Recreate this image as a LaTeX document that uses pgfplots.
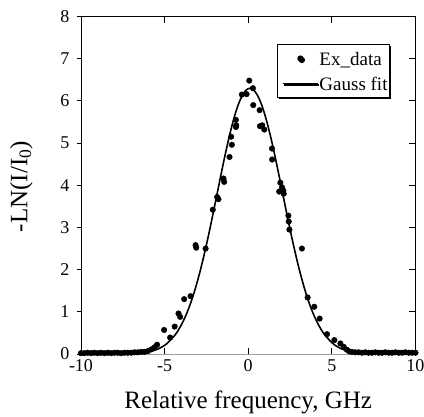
\documentclass[border=0pt]{standalone}
\usepackage{pgfplots}
\pgfplotsset{compat=1.18}
\usepackage{fontspec}
\setmainfont{Liberation Serif}
\usetikzlibrary{shadows}
\begin{document}
\begin{tikzpicture}
\begin{axis}[
  at={(0pt,0pt)}, anchor=south west,
  width=334.5pt, height=337.5pt, scale only axis,
  xmin=-10, xmax=10, ymin=0, ymax=8,
  axis line style={line width=0.9pt, black},
  xtick={-10,-5,0,5,10}, xticklabels={-10,-5,0,5,10},
  ytick={0,1,2,3,4,5,6,7,8}, yticklabels={0,1,2,3,4,5,6,7,8},
  tick align=inside, xtick pos=both, xticklabel pos=lower,
  ytick pos=right, yticklabel pos=left,
  major tick length=6.5pt,
  tick style={black, line width=0.8pt},
  ticklabel style={font=\fontsize{18}{21}\selectfont},
  yticklabel style={xshift=-8pt},
  xticklabel style={yshift=-2pt},
  xlabel={Relative frequency, GHz},
  ylabel={-LN(I/I\textsubscript{0})},
  label style={font=\fontsize{25}{29}\selectfont},
  xlabel style={at={(axis description cs:0.5,-0.16)}, anchor=base},
  ylabel style={at={(axis description cs:-0.16,0.496)}, anchor=base},
  legend style={at={(0.924,0.9185)}, anchor=north east, draw=black, line width=1pt, fill=white,
    inner xsep=1pt, inner ysep=3pt, row sep=3pt,
    font=\fontsize{19}{22}\selectfont,
    nodes={inner sep=1pt, text height=17pt, text depth=3pt},
    drop shadow={shadow xshift=1.5pt, shadow yshift=-1.5pt, fill=black, opacity=1},
    /tikz/every even column/.append style={column sep=0pt}},
  legend cell align=left,
]
\draw[gray!75, line width=1pt] (rel axis cs:0,0) -- (rel axis cs:1,0);
\addplot[only marks, mark=*, mark size=2.8pt, black,
  legend image code/.code={\path (-4pt,0pt) (35pt,0pt); \fill[black] (17.5pt,0pt) circle (2.6pt);}]
coordinates {
(-10.0,0.02) (-9.8,0.02) (-9.6,0.03) (-9.4,0.02) (-9.2,0.03) (-9.0,0.02) (-8.8,0.03)
(-8.6,0.02) (-8.4,0.03) (-8.2,0.02) (-8.0,0.03) (-7.8,0.03) (-7.6,0.02) (-7.4,0.03)
(-7.2,0.03) (-7.0,0.03) (-6.8,0.04) (-6.6,0.04) (-6.4,0.05) (-6.2,0.05) (-6.0,0.07)
(-5.8,0.11) (-5.6,0.16) (-5.45,0.22)
(-5.03,0.57) (-4.67,0.39) (-4.40,0.65) (-4.17,0.96) (-4.07,0.88) (-3.83,1.30)
(-3.45,1.37) (-3.15,2.58) (-3.11,2.52) (-2.55,2.50) (-2.12,3.42) (-1.86,3.72)
(-1.78,3.67) (-1.48,4.16) (-1.44,4.08) (-1.12,4.67) (-0.98,4.96) (-1.02,5.15)
(-0.74,5.55) (-0.72,5.42) (-0.74,5.38) (-0.38,6.15) (-0.10,6.16) (0.06,6.48)
(0.28,6.30) (0.30,5.90) (0.68,5.78) (0.70,5.40) (0.84,5.42) (0.96,5.32)
(1.42,4.87) (1.43,4.61) (1.85,3.85) (1.92,4.06) (2.02,3.95) (2.10,3.87) (2.12,3.80)
(2.40,3.28) (2.42,3.14) (2.46,2.95) (3.21,2.50) (3.55,1.34) (3.95,1.12) (4.27,0.84)
(4.71,0.47) (5.15,0.33) (5.51,0.25) (5.71,0.17) (5.90,0.10) (6.05,0.06)
(6.2,0.05) (6.4,0.04) (6.6,0.04) (6.8,0.03) (7.0,0.04) (7.2,0.03) (7.4,0.03)
(7.6,0.04) (7.8,0.03) (8.0,0.03) (8.2,0.04) (8.4,0.03) (8.6,0.03) (8.8,0.04)
(9.0,0.03) (9.2,0.03) (9.4,0.04) (9.6,0.03) (9.8,0.03) (10.0,0.03)
};
\addlegendentry{Ex\_data}
\addplot[black, line width=1.6pt, smooth,
  legend image code/.code={\draw[black, line width=1.2pt] (-4pt,0pt) (0pt,0pt) -- (35pt,0pt);}]
coordinates {
(-10,0) (-8,0.0011) (-7,0.0083) (-6.4,0.0244) (-5.9,0.0554) (-5.4,0.118) (-4.9,0.235)
(-4.4,0.440) (-4.15,0.586) (-3.9,0.768) (-3.65,0.991) (-3.4,1.258) (-3.15,1.571)
(-2.9,1.929) (-2.65,2.331) (-2.4,2.770) (-2.15,3.238) (-1.9,3.723) (-1.65,4.212)
(-1.4,4.687) (-1.15,5.130) (-0.9,5.524) (-0.65,5.851) (-0.4,6.097) (-0.15,6.248)
(0.1,6.3) (0.35,6.248) (0.6,6.097) (0.85,5.851) (1.1,5.524) (1.35,5.130) (1.6,4.687)
(1.85,4.212) (2.1,3.723) (2.35,3.238) (2.6,2.770) (2.85,2.331) (3.1,1.929) (3.35,1.571)
(3.6,1.258) (3.85,0.991) (4.1,0.768) (4.35,0.586) (4.6,0.440) (5.1,0.235) (5.6,0.118)
(6.1,0.0554) (6.6,0.0244) (7.2,0.0083) (8.2,0.0011) (10,0)
};
\addlegendentry{Gauss fit}
\end{axis}
\begin{axis}[
  at={(0pt,0pt)}, anchor=south west,
  width=334.5pt, height=337.5pt, scale only axis,
  xmin=-10, xmax=10, ymin=0, ymax=8,
  hide x axis, axis line style={draw=none},
  ytick={0,1,2,3,4,5,6,7,8}, yticklabels={},
  ytick pos=left, tick align=outside, major tick length=4pt,
  tick style={black, line width=0.8pt},
]
\end{axis}
\pgfresetboundingbox
\useasboundingbox (-81pt,-62pt) rectangle (343pt,354pt);
\end{tikzpicture}
\end{document}
